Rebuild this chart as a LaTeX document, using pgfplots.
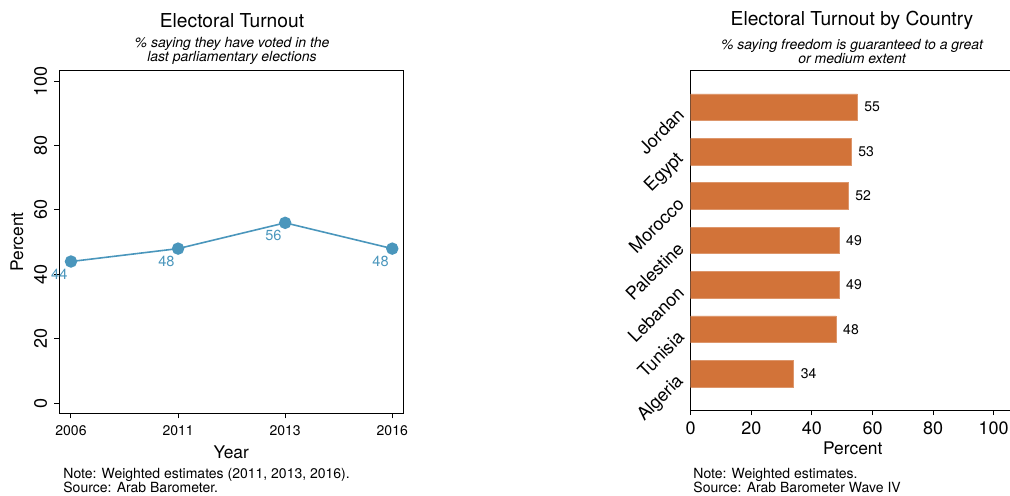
\documentclass[border=0pt]{standalone}
\usepackage{fontspec}
\setmainfont{TeX Gyre Heros}
\usepackage{pgfplots}
\pgfplotsset{compat=1.18}
\definecolor{lineblue}{RGB}{74,150,188}
\definecolor{barorange}{RGB}{210,115,57}

\newcommand{\fs}[1]{\fontsize{#1}{#1}\selectfont}

\begin{document}
\begin{tikzpicture}
\path[use as bounding box] (0,0) rectangle (505pt,247.5pt);
\clip (0,0) rectangle (505pt,247.5pt);

% left panel: turnout over time
\begin{axis}[
    at={(29.65pt,40.85pt)}, anchor=south west, scale only axis,
    width=172pt, height=171.3pt,
    xmin=-0.109, xmax=3.103, ymin=-3.1, ymax=103.2,
    xtick={0,1,2,3}, xticklabels={2006,2011,2013,2016},
    ytick={0,20,40,60,80,100},
    tick align=outside, tick pos=left, major tick length=2.5pt,
    axis line style={line width=0.5pt},
    tick style={line width=0.5pt, black},
    xticklabel style={font=\fs{7}},
    yticklabel style={rotate=90, anchor=south, font=\fs{9}},
    xlabel={Year}, ylabel={Percent},
    label style={font=\fs{8.7}},
    xlabel style={yshift=1.8pt},
    ylabel style={yshift=-1.5pt},
    /pgf/number format/assume math mode=true,
]
\addplot[color=lineblue, line width=0.8pt, mark=*, mark size=2.7pt,
    nodes near coords,
    every node near coord/.append style={anchor=center, xshift=-5.85pt,
        yshift=-6.5pt, font=\fs{7.3}, text=lineblue}]
    coordinates {(0,44) (1,48) (2,56) (3,48)};
\end{axis}

% right panel: turnout by country
\begin{axis}[
    at={(345.35pt,42.5pt)}, anchor=south west, scale only axis,
    width=162.1pt, height=169.7pt,
    xmin=0, xmax=107, ymin=0.182, ymax=7.824,
    xbar, bar width=13.3pt,
    xtick={0,20,40,60,80,100},
    ytick={1,...,7},
    yticklabels={Algeria,Tunisia,Lebanon,Palestine,Morocco,Egypt,Jordan},
    yticklabel style={rotate=45, anchor=east, font=\fs{9}},
    ytick style={draw=none},
    tick align=outside, tick pos=left, major tick length=2.5pt,
    axis line style={line width=0.5pt},
    tick style={line width=0.5pt, black},
    xticklabel style={font=\fs{9}},
    xlabel={Percent},
    label style={font=\fs{8.7}},
    xlabel style={yshift=3.3pt},
    nodes near coords,
    every node near coord/.append style={font=\fs{7}, text=black},
    /pgf/number format/assume math mode=true,
]
\addplot[fill=barorange, draw=barorange!75!white] coordinates {
    (34,1) (48,2) (49,3) (49,4) (52,5) (53,6) (55,7)};
\end{axis}

% titles
\node[font=\fs{9.6}] at (116pt,237.25pt) {Electoral Turnout};
\node[font=\itshape\fontsize{7}{7}\selectfont, align=center] at (116pt,222pt)
    {\% saying they have voted in the\\last parliamentary elections};
\node[font=\fs{9.6}] at (426pt,237.25pt) {Electoral Turnout by Country};
\node[font=\itshape\fontsize{7}{7}\selectfont, align=center] at (426pt,222pt)
    {\% saying freedom is guaranteed to a great\\or medium extent};

% notes
\node[font=\fontsize{7}{6.9}\selectfont, align=left, anchor=north west, inner sep=0pt]
    at (31.5pt,13.6pt) {Note: Weighted estimates (2011, 2013, 2016).\\Source: Arab Barometer.};
\node[font=\fontsize{7}{6.9}\selectfont, align=left, anchor=north west, inner sep=0pt]
    at (346.5pt,13.6pt) {Note: Weighted estimates.\\Source: Arab Barometer Wave IV};
\end{tikzpicture}
\end{document}
